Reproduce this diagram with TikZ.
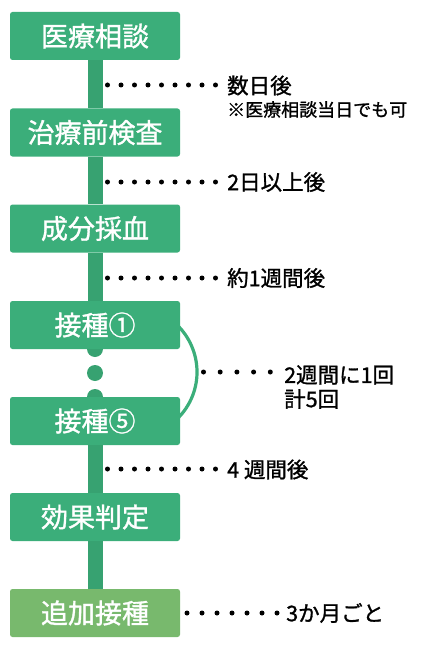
\documentclass[tikz,border=0pt]{standalone}
\usepackage{fontspec}
\setmainfont{Noto Sans CJK JP}[BoldFont={Noto Sans CJK JP Bold}]
\newfontfamily\jpmed{Noto Sans CJK JP}[FakeBold=1.2]
\definecolor{boxgreen}{HTML}{3BAE7A}
\definecolor{trunkgreen}{HTML}{37A271}
\definecolor{lastgreen}{HTML}{78B96D}
\tikzset{
  stepbox/.style={fill=boxgreen, rounded corners=2.5pt, minimum width=170pt, minimum height=48pt, inner sep=0pt, text=white, font=\jpmed\fontsize{27}{27}\selectfont},
  trunk/.style={draw=trunkgreen, line width=15pt},
  dotline/.style={line width=5pt, line cap=round, dash pattern=on 0pt off 13.5pt},
  lbl/.style={anchor=west, inner sep=0pt, font=\jpmed\fontsize{21.5}{24}\selectfont},
  note/.style={anchor=west, inner sep=0pt, font=\jpmed\fontsize{18}{20}\selectfont},
  bump/.style={fill=trunkgreen},
}
\begin{document}
\begin{tikzpicture}[x=1pt,y=-1pt]
\useasboundingbox (0,0) rectangle (430,650);
% arc behind boxes 4 and 5
\coordinate (arcc) at (131.6,372);
\draw[draw=boxgreen, line width=3.2pt] (arcc) ++(-60:65.4) arc[start angle=-60, end angle=60, radius=65.4];
% bumps and middle dot between 接種① and 接種⑤
\fill[bump] (95,349) circle[radius=8];
\fill[bump] (95,397) circle[radius=8];
\fill[bump] (95,373) circle[radius=8] coordinate (mid);
% boxes
\node[stepbox] (b1) at (95,36) {医療相談};
\node[stepbox] (b2) at (95,132.5) {治療前検査};
\node[stepbox] (b3) at (95,228.5) {成分採血};
\node[stepbox] (b4) at (95,325) {接種①};
\node[stepbox] (b5) at (95,421) {接種⑤};
\node[stepbox] (b6) at (95,517) {効果判定};
\node[stepbox, fill=lastgreen] (b7) at (95,613) {追加接種};
% trunk
\draw[trunk] (b1.south) -- (b2.north);
\draw[trunk] (b2.south) -- (b3.north);
\draw[trunk] (b3.south) -- (b4.north);
\draw[trunk] (b5.south) -- (b6.north);
\draw[trunk] (b6.south) -- (b7.north);
% labels
\node[lbl] (l1) at (227,85.5) {数日後};
\node[note] (l1n) at (227,109.5) {※医療相談当日でも可};
\node[lbl] (l2) at (227,182) {2日以上後};
\node[lbl] (l3) at (227,278) {約1週間後};
\node[lbl] (l4) at (284,375) {2週間に1回};
\node[lbl] (l4b) at (284,399) {計5回};
\node[lbl] (l5) at (227,469.5) {4 週間後};
\node[lbl] (l6) at (286,613) {3か月ごと};
% dotted leaders
\coordinate (d1) at (107.5,85);
\coordinate (d2) at (107.5,182);
\coordinate (d3) at (107.5,278);
\coordinate (d4) at (203.5,372);
\coordinate (d5) at (107.5,469);
\coordinate (d6) at (187,613);
\draw[dotline] (d1) -- ++(108.5,0) coordinate (e1);
\draw[dotline] (d2) -- ++(108.5,0) coordinate (e2);
\draw[dotline] (d3) -- ++(108.5,0) coordinate (e3);
\draw[dotline, dash pattern=on 0pt off 16.7pt] (d4) -- ++(67.3,0) coordinate (e4);
\draw[dotline] (d5) -- ++(108.5,0) coordinate (e5);
\draw[dotline, dash pattern=on 0pt off 15pt] (d6) -- ++(90.5,0) coordinate (e6);
\end{tikzpicture}
\end{document}
